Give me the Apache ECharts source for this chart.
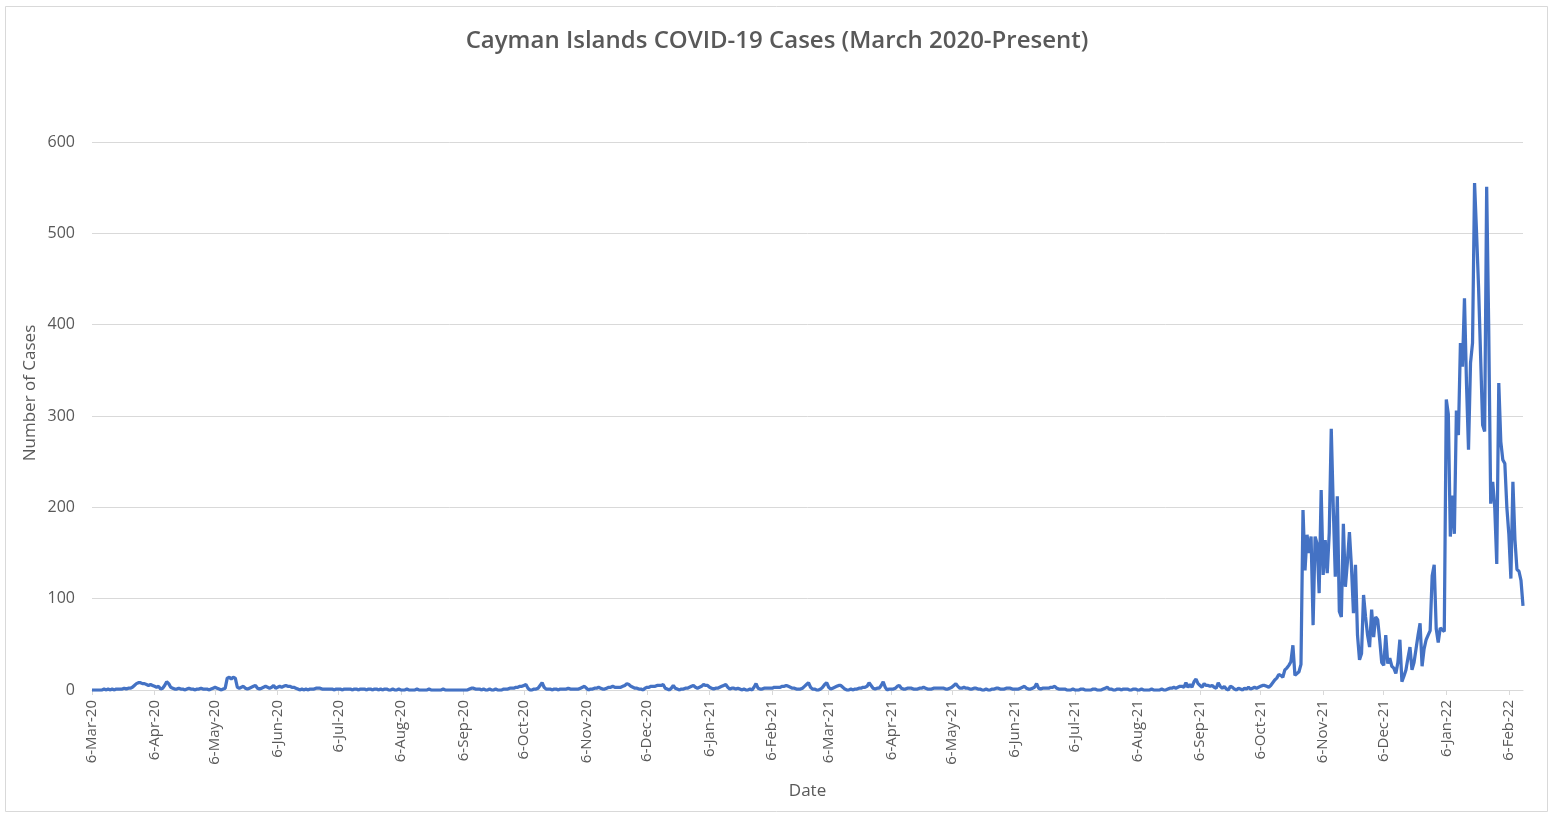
<!DOCTYPE html>
<html>
<head>
<meta charset="utf-8">
<script src="https://cdn.jsdelivr.net/npm/echarts@6/dist/echarts.min.js"></script>
<style>
html,body{margin:0;padding:0;background:#fff;}
#chart{width:1554px;height:814px;}
</style>
</head>
<body>
<div id="chart"></div>
<script>
// Daily new cases, first value = 6 Mar 2020
const startDate = '2020-03-06';
const mar20 = [0,0,0,0,0,0,1,0,1,0,1,0,1,1,1,1,2,1,2,2,3,5,7,8,8,7];
const apr20 = [7,6,5,6,5,4,3,4,1,2,5,9,7,3,2,1,1,2,1,1,0,1,2,1,1,0,1,1,2,1];
const may20 = [1,1,0,1,2,3,2,1,0,1,2,13,14,12,14,13,3,2,3,4,2,1,2,3,4,5,2,1,2,3,4];
const jun20 = [3,2,3,5,2,3,4,3,4,5,4,4,3,3,2,1,0,1,0,1,0,1,1,1,2,2,2,1,1,1];
const jul20 = [1,1,1,0,1,1,1,0,1,1,1,1,0,1,1,0,1,1,1,0,1,1,0,1,1,0,1,0,1,1,0];
const aug20 = [0,1,0,0,1,0,0,0,1,0,0,0,0,1,0,0,0,0,0,1,0,0,0,0,0,0,1,0,0,0,0];
const sep20 = [0,0,0,0,0,0,0,0,1,2,2,1,1,1,0,1,0,0,1,0,0,1,0,0,0,1,1,1,2,2];
const oct20 = [2,3,3,4,4,5,6,2,0,0,1,1,2,5,8,3,1,1,1,0,1,1,0,1,1,1,1,2,1,1,1];
const nov20 = [1,1,2,3,4,2,0,1,1,2,2,3,2,1,1,2,3,3,4,3,3,3,3,4,5,7,6,4,3,2];
const dec20 = [2,1,1,0,2,3,3,4,4,4,5,5,5,6,2,1,0,2,5,2,1,0,1,1,2,2,3,4,5,3,2];
const jan21 = [3,4,6,5,5,3,2,1,2,2,3,4,5,6,3,1,2,2,1,2,1,0,1,0,0,1,0,3,7,2,1];
const feb21 = [1,2,2,2,2,2,3,3,3,3,4,4,5,4,3,2,2,1,1,1,2,4,6,8,3,1,1,0];
const mar21 = [0,1,3,6,8,3,1,2,3,4,5,5,3,1,0,0,1,0,1,1,2,2,3,3,4,8,5,2,1,2,2];
const apr21 = [5,9,3,0,1,1,1,2,4,5,2,1,1,2,2,2,1,1,1,2,2,3,2,1,1,1,2,2,2,2];
const may21 = [2,2,1,1,2,3,5,7,4,2,2,3,2,2,1,1,2,2,1,1,0,0,1,0,0,1,1,2,2,1,1];
const jun21 = [1,2,2,2,1,1,1,1,2,3,4,2,1,1,2,3,7,2,1,2,2,2,2,3,3,4,2,1,1,1];
const jul21 = [1,0,0,0,1,0,0,0,1,1,0,0,0,0,1,1,0,0,0,1,2,3,1,1,0,0,1,1,0,1,1];
const aug21 = [1,0,0,1,1,0,0,1,0,0,0,0,1,0,0,0,0,1,0,0,1,2,2,3,2,3,4,4,3,8,3];
const sep21 = [6,3,9,12,7,5,3,7,5,5,4,5,3,2,8,4,2,4,1,0,4,3,1,0,2,1,0,2,1,3];
const oct21 = [1,2,3,2,3,4,5,5,4,3,5,8,11,13,17,16,14,22,24,27,31,49,16,18,20,28,197,131,170,150,168];
const nov21 = [71,168,160,106,219,126,164,128,172,286,200,124,212,86,80,182,113,140,173,135,84,137,60,33,40,104,80,60,47,88];
const dec21 = [58,80,77,55,30,27,60,29,35,26,24,18,30,55,9,15,22,35,47,22,30,45,60,73,26,45,55,60,65,125,137];
const jan22 = [67,52,68,66,64,318,302,168,213,171,306,279,380,354,429,336,263,358,380,555,500,440,365,290,283,551,398,204,228,200,138];
const feb22 = [336,272,252,248,200,170,122,228,165,132,130,120,92];

const yTicks = [0,100,200,300,400,500,600];
const monthNames = ['Jan','Feb','Mar','Apr','May','Jun','Jul','Aug','Sep','Oct','Nov','Dec'];

const cases = [].concat(mar20,apr20,may20,jun20,jul20,aug20,sep20,oct20,nov20,dec20,
  jan21,feb21,mar21,apr21,may21,jun21,jul21,aug21,sep21,oct21,nov21,dec21,jan22,feb22);

// date categories, one per daily value
const dates = [];
(function(){
  const p = startDate.split('-').map(Number);
  const t0 = Date.UTC(p[0], p[1]-1, p[2]);
  for (let i = 0; i < cases.length; i++) {
    const d = new Date(t0 + i*86400000);
    const s = d.getUTCFullYear() + '-' + String(d.getUTCMonth()+1).padStart(2,'0') + '-' + String(d.getUTCDate()).padStart(2,'0');
    dates.push(s);
  }
})();

function fmt(s){
  const p = s.split('-');
  return Number(p[2]) + '-' + monthNames[Number(p[1])-1] + '-' + p[0].slice(2);
}
const isTick = (idx, val) => val.slice(8) === '06';

const chart = echarts.init(document.getElementById('chart'));
const txt = '#595959';
chart.setOption({
  animation: false,
  backgroundColor: '#fff',
  title: {
    text: 'Cayman Islands COVID-19 Cases (March 2020-Present)',
    left: 'center',
    top: 24,
    textStyle: {fontFamily: 'Open Sans', fontSize: 24, fontWeight: 600, color: txt}
  },
  grid: {left: 92, right: 31, top: 142, bottom: 124, containLabel: false},
  graphic: [
    {type: 'rect', shape: {x: 5.5, y: 6.5, width: 1542, height: 805}, style: {fill: 'none', stroke: '#d9d9d9', lineWidth: 1}, silent: true},
    {type: 'text', x: 30, y: 393, rotation: Math.PI/2,
     style: {text: 'Number of Cases', align: 'center', verticalAlign: 'middle', fontFamily: 'Open Sans', fontSize: 17, fill: txt}}
  ],
  xAxis: {
    type: 'category',
    data: dates,
    boundaryGap: false,
    name: 'Date',
    nameLocation: 'middle',
    nameGap: 93,
    nameTextStyle: {fontFamily: 'Open Sans', fontSize: 17, color: txt},
    axisLine: {lineStyle: {color: '#d9d9d9', width: 1}},
    axisTick: {show: true, interval: isTick, length: 5, lineStyle: {color: '#d9d9d9'}},
    axisLabel: {interval: isTick, rotate: 90, margin: 10, formatter: fmt, fontFamily: 'Open Sans', fontSize: 15, color: txt},
    splitLine: {show: false}
  },
  yAxis: {
    type: 'value',
    min: yTicks[0], max: yTicks[yTicks.length-1], interval: 100,
    axisLine: {show: false},
    axisTick: {show: false},
    axisLabel: {margin: 17, fontFamily: 'Open Sans', fontSize: 16, color: txt},
    splitLine: {lineStyle: {color: '#d9d9d9', width: 1}}
  },
  series: [{
    type: 'line',
    data: cases,
    showSymbol: false,
    symbol: 'none',
    lineStyle: {color: '#4472C4', width: 3.25},
    itemStyle: {color: '#4472C4'}
  }]
});
</script>
</body>
</html>
